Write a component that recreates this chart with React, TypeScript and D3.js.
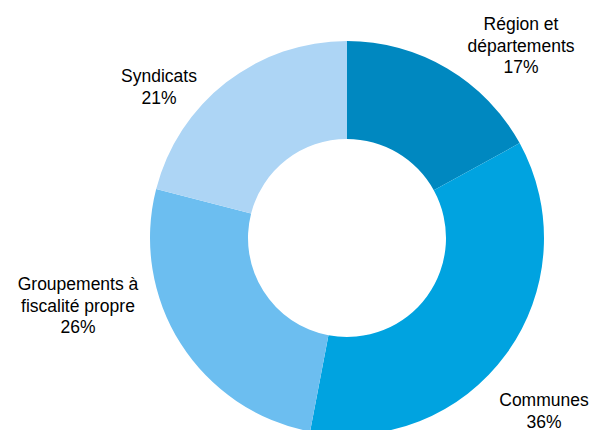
import { arc, pie } from "d3";

const categories = ["Région et départements", "Communes", "Groupements à fiscalité propre", "Syndicats"];
const shares = [17, 36, 26, 21];
const colors = ["#0088C0", "#00A3E0", "#6CBEF0", "#ADD5F5"];
const labelLines = [
  ["Région et", "départements", "17%"],
  ["Communes", "36%"],
  ["Groupements à", "fiscalité propre", "26%"],
  ["Syndicats", "21%"],
];
// label anchor (center x, first baseline y)
const labelPos = [
  [521, 30],
  [544, 406],
  [78, 290],
  [159, 82],
];

export default function App() {
  const width = 599;
  const height = 430;
  const cx = 347;
  const cy = 238;
  const outerR = 197;
  const innerR = 99;
  const lineH = 21.5;

  const arcs = pie<number>().sort(null).value((d) => d)(shares);
  const arcGen = arc<any>().innerRadius(innerR).outerRadius(outerR);

  return (
    <div style={{ position: "fixed", left: 0, top: 0 }}>
      <svg width={width} height={height} style={{ display: "block", background: "#fff" }}>
        <g transform={`translate(${cx},${cy})`}>
          {arcs.map((a, i) => (
            <path key={categories[i]} d={arcGen(a) ?? ""} fill={colors[i]} />
          ))}
        </g>
        {labelLines.map((lines, i) => (
          <text
            key={categories[i]}
            x={labelPos[i][0]}
            y={labelPos[i][1]}
            textAnchor="middle"
            fontFamily="'Liberation Sans', Arial, sans-serif"
            fontSize={17.5}
            fill="#000"
          >
            {lines.map((l, j) => (
              <tspan key={j} x={labelPos[i][0]} dy={j === 0 ? 0 : lineH}>
                {l}
              </tspan>
            ))}
          </text>
        ))}
      </svg>
    </div>
  );
}
